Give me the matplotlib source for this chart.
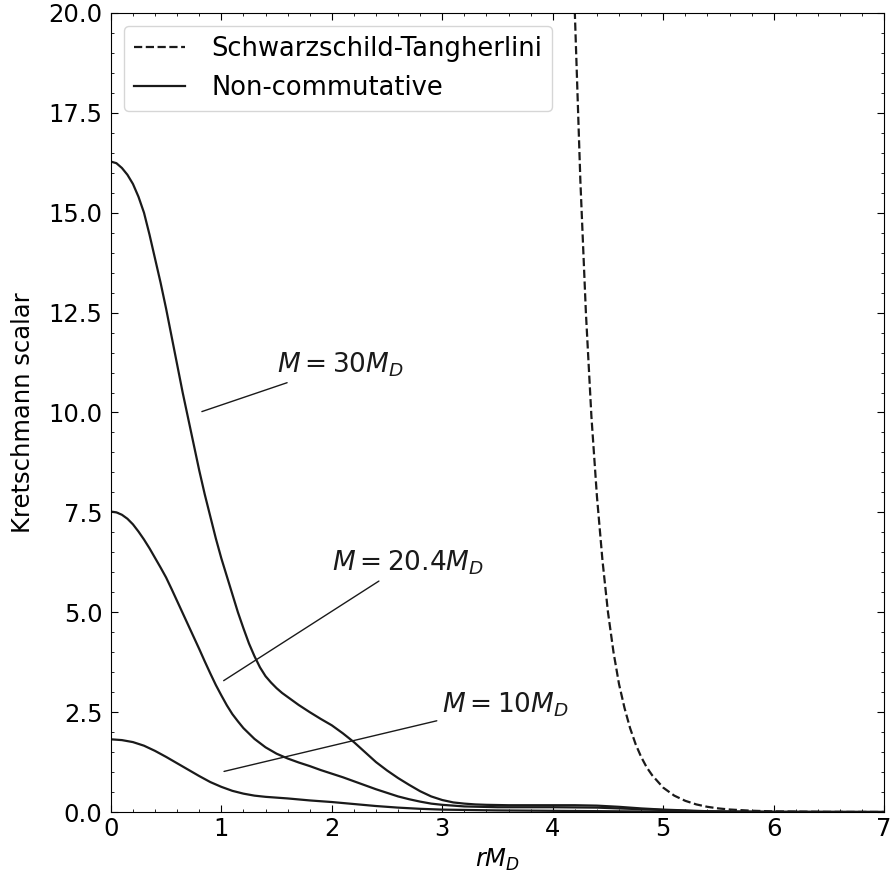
import numpy as np
import matplotlib
matplotlib.use("Agg")
import matplotlib.pyplot as plt

# Kretschmann scalar, Schwarzschild-Tangherlini (dashed)
r_st = [4.19, 4.20, 4.25, 4.30, 4.35, 4.40, 4.45, 4.50, 4.55, 4.60, 4.65, 4.70,
        4.75, 4.80, 4.85, 4.90, 5.00, 5.10, 5.20, 5.30, 5.40, 5.50, 5.60, 5.80,
        6.00, 6.50, 7.00]
k_st = [21.0, 20.0, 15.8, 12.5, 9.9, 7.9, 6.3, 5.0, 4.0, 3.2, 2.6, 2.1,
        1.7, 1.38, 1.12, 0.92, 0.61, 0.41, 0.28, 0.19, 0.13, 0.09, 0.063, 0.032,
        0.016, 0.003, 0.001]

# non-commutative curves
r_30 = [0.0, 0.05, 0.1, 0.15, 0.2, 0.25, 0.3, 0.35, 0.4, 0.45, 0.5, 0.55, 0.6,
        0.65, 0.7, 0.75, 0.8, 0.85, 0.9, 0.95, 1.0, 1.05, 1.1, 1.15, 1.2, 1.25,
        1.3, 1.35, 1.4, 1.45, 1.5, 1.55, 1.6, 1.7, 1.8, 1.9, 2.0, 2.1, 2.2, 2.3,
        2.4, 2.5, 2.6, 2.7, 2.8, 2.9, 3.0, 3.1, 3.2, 3.3, 3.4, 3.6, 3.8, 4.0,
        4.2, 4.4, 4.6, 4.8, 5.0, 5.2, 5.4, 5.6, 6.0, 7.0]
k_30 = [16.28, 16.24, 16.12, 15.95, 15.72, 15.4, 15.0, 14.45, 13.85, 13.25,
        12.6, 11.9, 11.2, 10.5, 9.85, 9.2, 8.55, 7.95, 7.4, 6.85, 6.35, 5.9,
        5.45, 5.0, 4.6, 4.22, 3.9, 3.62, 3.4, 3.24, 3.1, 2.98, 2.88, 2.68, 2.5,
        2.33, 2.17, 1.97, 1.75, 1.5, 1.25, 1.04, 0.85, 0.68, 0.52, 0.39, 0.3,
        0.24, 0.21, 0.19, 0.18, 0.17, 0.17, 0.17, 0.17, 0.16, 0.13, 0.09, 0.06,
        0.04, 0.02, 0.01, 0.004, 0.0]

r_20 = [0.0, 0.05, 0.1, 0.15, 0.2, 0.25, 0.3, 0.35, 0.4, 0.45, 0.5, 0.55, 0.6,
        0.65, 0.7, 0.75, 0.8, 0.85, 0.9, 0.95, 1.0, 1.05, 1.1, 1.15, 1.2, 1.3,
        1.4, 1.5, 1.6, 1.7, 1.8, 1.9, 2.0, 2.1, 2.2, 2.3, 2.4, 2.5, 2.6, 2.7,
        2.8, 2.9, 3.0, 3.2, 3.5, 4.0, 4.4, 4.7, 5.0, 5.3, 5.6, 6.0, 7.0]
k_20 = [7.52, 7.5, 7.44, 7.34, 7.2, 7.02, 6.82, 6.6, 6.36, 6.12, 5.87, 5.58,
        5.28, 4.98, 4.68, 4.38, 4.08, 3.77, 3.47, 3.18, 2.92, 2.67, 2.45, 2.27,
        2.1, 1.83, 1.62, 1.46, 1.34, 1.24, 1.15, 1.05, 0.96, 0.87, 0.77, 0.67,
        0.57, 0.48, 0.39, 0.32, 0.26, 0.21, 0.18, 0.14, 0.12, 0.12, 0.11, 0.08,
        0.05, 0.02, 0.01, 0.003, 0.0]

r_10 = [0.0, 0.1, 0.2, 0.3, 0.4, 0.5, 0.6, 0.7, 0.8, 0.9, 1.0, 1.1, 1.2, 1.3,
        1.4, 1.5, 1.6, 1.8, 2.0, 2.2, 2.4, 2.6, 2.8, 3.0, 3.5, 4.0, 4.5, 5.0,
        6.0, 7.0]
k_10 = [1.82, 1.8, 1.75, 1.66, 1.53, 1.38, 1.22, 1.06, 0.9, 0.75, 0.63, 0.53,
        0.46, 0.41, 0.38, 0.36, 0.34, 0.29, 0.25, 0.2, 0.15, 0.11, 0.08, 0.06,
        0.04, 0.03, 0.02, 0.01, 0.0, 0.0]

labels = [r"$M = 30M_D$", r"$M = 20.4M_D$", r"$M = 10M_D$"]
label_xy = [(0.8, 10.0), (1.0, 3.25), (1.0, 1.0)]
label_text = [(1.5, 11.0), (2.0, 6.05), (3.0, 2.5)]

plt.rcParams['font.family'] = ['DejaVu Sans']
fig = plt.figure(figsize=(8.94, 8.81), dpi=100)
ax = fig.add_axes([0.124, 0.0783, 0.865, 0.907])

col = '#1a1a1a'
ax.plot(r_st, k_st, '--', color=col, lw=1.6, label='Schwarzschild-Tangherlini')
ax.plot(r_30, k_30, '-', color=col, lw=1.6, label='Non-commutative')
ax.plot(r_20, k_20, '-', color=col, lw=1.6)
ax.plot(r_10, k_10, '-', color=col, lw=1.6)

for t, xy, xyt in zip(labels, label_xy, label_text):
    ax.annotate(t, xy=xy, xytext=xyt, fontsize=19, color=col,
                arrowprops=dict(arrowstyle='-', color=col, lw=1.0))

ax.set_xlim(0, 7)
ax.set_ylim(0, 20)
ax.set_xticks(np.arange(0, 8, 1))
ax.set_yticks(np.arange(0, 20.1, 2.5))
ax.minorticks_on()
ax.tick_params(which='both', direction='in', top=True, right=True, labelsize=17.5)
ax.tick_params(which='major', length=5)
ax.tick_params(which='minor', length=2.5)
ax.tick_params(axis='y', which='major', pad=6)
ax.set_xlabel(r"$rM_D$", fontsize=17.5)
ax.set_ylabel("Kretschmann scalar", fontsize=17.5, labelpad=10)
ax.legend(loc='upper left', fontsize=18.5, handletextpad=1.0)

fig.savefig('out.png', dpi=100)
